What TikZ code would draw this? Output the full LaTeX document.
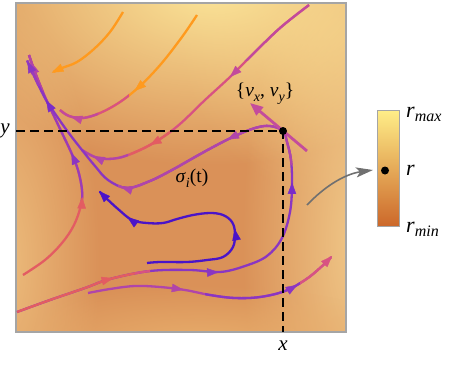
\documentclass[tikz,border=0pt]{standalone}
\usepackage{fontspec}
\setmainfont{Liberation Serif}
\usetikzlibrary{arrows.meta,decorations.markings,fadings}
\tikzfading[name=blob, inner color=transparent!0, outer color=transparent!100]
\definecolor{bgbase}{HTML}{DA9158}
\definecolor{bgyel}{HTML}{FCE79A}
\definecolor{bglight}{HTML}{F1CA8A}
\definecolor{bgleft}{HTML}{EDBE7E}
\definecolor{bgmid}{HTML}{E8AE6C}
\definecolor{orangec}{HTML}{FF9A1E}
\definecolor{pinkc}{HTML}{E35C62}
\definecolor{rosec}{HTML}{D85282}
\definecolor{magc}{HTML}{C24A9C}
\definecolor{magpc}{HTML}{B045AA}
\definecolor{purpc}{HTML}{8A36C2}
\definecolor{violc}{HTML}{7A2CC8}
\definecolor{bluec}{HTML}{4A14C8}
\definecolor{velc}{HTML}{C44C9C}
\definecolor{framec}{HTML}{A5A5A5}
\definecolor{arrowgray}{HTML}{707070}
\definecolor{cbtop}{HTML}{FFEE88}
\definecolor{cbmid}{HTML}{EDA94A}
\definecolor{cbbot}{HTML}{CC682A}
\tikzset{
  sline/.style={line width=2.3pt},
  am/.style 2 args={postaction={decorate, decoration={markings,
      mark=at position #1 with {\arrow{Triangle[length=11.5pt,width=8.5pt,color=#2]}}}}},
  dashln/.style={line width=1.6pt, dash pattern=on 9pt off 5pt},
  biglbl/.style={inner sep=0pt, font=\fontsize{21}{24}\selectfont},
  rlbl/.style={inner sep=0pt, font=\fontsize{22}{26}\selectfont},
  smlbl/.style={inner sep=0pt, font=\fontsize{19.5}{22}\selectfont},
}
\newcommand\crvA[1]{\path[#1] plot[smooth,tension=.6] coordinates {(123,12) (110,32) (94,49) (77,62) (62,68) (51,73)};}
\newcommand\crvB[1]{\path[#1] plot[smooth,tension=.6] coordinates {(197,15) (182,37) (161,64) (140,86) (120,102) (100,113) (83,118) (69,116) (60,110)};}
\newcommand\crvC[1]{\path[#1] plot[smooth,tension=.6] coordinates {(309,5) (280,28) (252,55) (230,77) (205,100) (180,124) (160,139) (140,150) (118,158) (98,158) (82,150)};}
\newcommand\crvS[1]{\path[#1] plot[smooth,tension=.6] coordinates {(17,312) (50,300) (85,288) (110,279) (150,271) (190,270) (220,272) (245,266) (267,256) (282,238) (290,212) (292,185) (291,160) (287,142) (283,131) (270,126) (255,128) (235,136) (215,146) (195,157) (172,170) (150,181) (127,188) (108,180) (95,166) (82,150) (68,132) (56,115) (46,100) (36,80) (26,58)};}
\newcommand\crvG[1]{\path[#1] plot[smooth,tension=.6] coordinates {(23,275) (45,260) (62,243) (74,225) (81,205) (82,190) (78,170) (71,152) (62,133) (53,114) (45,97) (38,80) (33,67) (29,55)};}
\newcommand\crvF[1]{\path[#1] plot[smooth,tension=.6] coordinates {(147,263) (160,262) (187,262) (207,260) (223,257) (233,247) (235,233) (232,222) (223,215) (210,213) (193,215) (177,219) (163,223) (147,223) (132,220) (118,209) (106,198) (98,190)};}
\newcommand\crvJ[1]{\path[#1] plot[smooth,tension=.6] coordinates {(88,293) (110,289) (135,286) (160,287) (185,290) (210,295) (235,298) (260,297) (285,291) (305,280) (320,268) (333,255)};}
\begin{document}
\begin{tikzpicture}[x=1pt,y=-1pt]
\useasboundingbox (0,0) rectangle (460,364);
% background field
\begin{scope}
  \clip (16,3) rectangle (346,332);
  \fill[bgbase] (16,3) rectangle (346,332);
  \fill[bgmid, path fading=blob] (340,40) ellipse [x radius=160pt, y radius=160pt];
  \fill[bglight, path fading=blob] (362,240) ellipse [x radius=120pt, y radius=330pt];
  \fill[bgleft, path fading=blob] (0,260) ellipse [x radius=100pt, y radius=260pt];
  \fill[bgmid, path fading=blob] (200,345) ellipse [x radius=220pt, y radius=60pt];
  \fill[bgyel, path fading=blob] (210,-15) ellipse [x radius=290pt, y radius=180pt];
\end{scope}
\draw[framec, line width=1.5pt] (16,3) rectangle (346,332);
% streamlines
\crvA{draw=orangec, sline, shorten >=3pt}
\crvA{am={0.99}{orangec}}
\crvB{draw=orangec, sline, shorten >=0pt}
\begin{scope}\clip (0,92) rectangle (129,200); \crvB{draw=rosec, sline}\end{scope}
\begin{scope}\clip (0,92) rectangle (98,200); \crvB{draw=magc, sline}\end{scope}
\crvB{am={0.54}{orangec}, am={0.93}{magc}}
\crvC{draw=rosec, sline}
\begin{scope}\clip (200,0) rectangle (346,60); \crvC{draw=magc, sline}\end{scope}
\begin{scope}\clip (130,120) rectangle (170,170); \crvC{draw=pinkc, sline}\end{scope}
\begin{scope}\clip (0,120) rectangle (128,170); \crvC{draw=magpc, sline}\end{scope}
\crvC{am={0.375}{magc}, am={0.745}{pinkc}, am={0.955}{magpc}}
\crvJ{draw=magpc, sline, shorten >=3pt}
\begin{scope}\clip (205,200) rectangle (300,320); \crvJ{draw=purpc, sline}\end{scope}
\begin{scope}\clip (300,200) rectangle (346,320); \crvJ{draw=rosec, sline, shorten >=3pt}\end{scope}
\crvJ{am={0.37}{magpc}, am={0.82}{purpc}, am={0.995}{rosec}}
\crvG{draw=pinkc, sline}
\begin{scope}\clip (0,0) rectangle (120,200); \crvG{draw={rgb,255:red,154;green,60;blue,184}, sline}\end{scope}
\begin{scope}\clip (0,0) rectangle (120,90); \crvG{draw={rgb,255:red,180;green,68;blue,164}, sline}\end{scope}
\crvG{am={0.40}{pinkc}, am={0.58}{purpc}, am={0.97}{magpc}}
\crvF{draw=bluec, sline, shorten >=3pt}
\crvF{am={0.41}{bluec}, am={0.85}{bluec}, am={0.995}{bluec}}
\crvS{draw=purpc, sline, shorten >=3pt}
\begin{scope}\clip (0,240) rectangle (135,340); \crvS{draw=pinkc, sline}\end{scope}
\begin{scope}\clip (135,240) rectangle (150,340); \crvS{draw=rosec, sline}\end{scope}
\begin{scope}\clip (118,100) -- (310,100) -- (310,165) -- (275,165) -- (275,200) -- (118,200) -- cycle; \crvS{draw=magpc, sline}\end{scope}
\begin{scope}\clip (0,0) rectangle (40,85); \crvS{draw={rgb,255:red,154;green,60;blue,188}, sline, shorten >=3pt}\end{scope}
\crvS{am={0.139}{pinkc}, am={0.284}{purpc}, am={0.464}{violc}, am={0.617}{magpc}, am={0.778}{magpc}, am={0.936}{violc}, am={0.995}{purpc}}
% dashed guides
\coordinate (dot) at (283,131);
\coordinate (yl) at (16,131);
\coordinate (xb) at (283,332);
\draw[dashln] (yl) -- (dot) -- (xb);
% velocity
\coordinate (vs) at (307,151);
\coordinate (vt) at (250,103);
\draw[velc, line width=2.8pt, -{Triangle[length=13pt,width=10.5pt]}] (vs) -- (vt);
\fill (dot) circle (4pt);
% labels
\node[biglbl, anchor=mid east] (ylab) at (10,131) {\textit{y}};
\node[biglbl, anchor=mid] (xlab) at (283,348) {\textit{x}};
\node[smlbl] (vlab) at (265,94) {\{\textit{v}\raisebox{-0.25em}{\fontsize{14}{14}\selectfont\textit{x}}, \textit{v}\raisebox{-0.25em}{\fontsize{14}{14}\selectfont\textit{y}}\}};
\node[smlbl] (sig) at (192,178) {\textit{σ}\raisebox{-0.25em}{\fontsize{14}{14}\selectfont\textit{i}}(t)};
% colour bar
\shade[top color=cbtop, middle color=cbmid, bottom color=cbbot] (377,110) rectangle (399,226);
\draw[framec, line width=1pt] (377,110) rectangle (399,226);
\fill (385,170.5) circle (4pt);
\node[rlbl, anchor=base west] (rmax) at (406,117) {\textit{r}\raisebox{-0.2em}{\fontsize{16}{16}\selectfont\textit{max}}};
\node[rlbl, anchor=base west] (rr) at (406,175) {\textit{r}};
\node[rlbl, anchor=base west] (rmin) at (406,232) {\textit{r}\raisebox{-0.2em}{\fontsize{16}{16}\selectfont\textit{min}}};
% pointer arrow
\coordinate (gs) at (307,205);
\coordinate (ge) at (373,170);
\draw[arrowgray, line width=1.6pt, -{Stealth[length=17pt,width=10pt,inset=4pt]}] (gs) .. controls (325,186) and (345,174) .. (ge);
\end{tikzpicture}
\end{document}
